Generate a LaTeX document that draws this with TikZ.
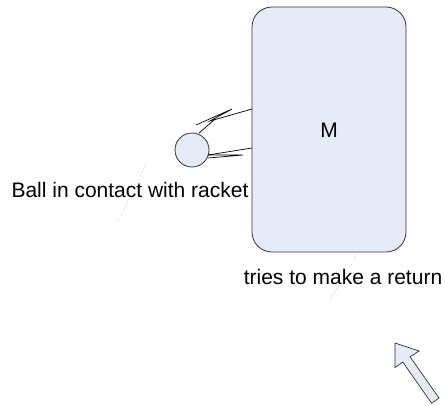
\documentclass[tikz,border=0pt]{standalone}
\usepackage{fontspec}
\setmainfont{Liberation Sans}
\begin{document}
\begin{tikzpicture}[x=1pt,y=-1pt,
  shapefill/.style={fill={rgb,255:red,230;green,236;blue,247}, draw={rgb,255:red,50;green,50;blue,50}, line width=0.8pt},
  racket/.style={draw=black, line width=0.7pt},
  guide/.style={draw={rgb,255:red,143;green,170;blue,220}, dotted, line width=0.6pt},
  lbl/.style={font=\fontsize{21}{25}\selectfont, inner sep=1pt, fill=white}]
\useasboundingbox (0,0) rectangle (445,405);
% guides
\coordinate (g1a) at (146,164);
\coordinate (g1b) at (118,222);
\coordinate (g2a) at (357,255);
\coordinate (g2b) at (330,300);
\draw[guide] (g1a) -- (g1b);
\draw[guide] (g2a) -- (g2b);
% big rounded box
\node[shapefill, rounded corners=20pt, minimum width=154pt, minimum height=245pt, inner sep=0pt] (M) at (329,129.5) {};
\node[font=\fontsize{21}{25}\selectfont] (Mt) at (329,130) {M};
% ball
\node[shapefill, circle, minimum size=34pt, inner sep=0pt] (ball) at (192,150) {};
% racket strings
\coordinate (u1) at (199,133);
\coordinate (u2) at (214,120);
\coordinate (u3) at (196,125);
\coordinate (u4) at (232,109);
\coordinate (u5) at (210,121);
\coordinate (u6) at (252,109);
\draw[racket] (u1) -- (u2);
\draw[racket] (u3) -- (u4) -- (u5) -- (u6);
\coordinate (l1) at (208,155);
\coordinate (l2) at (252,148);
\coordinate (l3) at (243,155);
\coordinate (l4) at (208,158);
\draw[racket] (l1) -- (l2);
\draw[racket] (l1) -- (l3) -- (l4);
% labels
\node[lbl] (ballLbl) at (130,190) {Ball in contact with racket};
\node[lbl] (retLbl) at (343,277) {tries to make a return};
% block arrow
\draw[shapefill, line width=0.7pt, line join=miter]
  (395,343) -- (419,351) -- (410.1,356.8) -- (439,398) -- (431.6,403.2) -- (402.7,362) -- (395,367.5) -- cycle;
\end{tikzpicture}
\end{document}
